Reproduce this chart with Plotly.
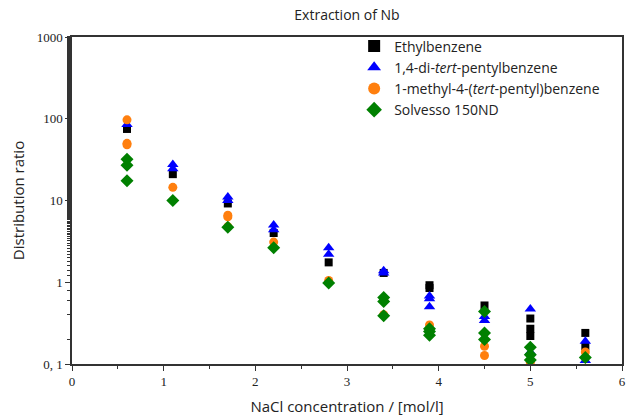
import plotly.graph_objects as go

eth_x = [0.6, 1.1, 1.7, 2.2, 2.8, 3.4, 3.9, 3.9, 4.5, 5.0, 5.0, 5.0, 5.6, 5.6]
eth_y = [75, 21, 9.2, 4.0, 1.75, 1.3, 0.92, 0.85, 0.52, 0.36, 0.27, 0.22, 0.24, 0.165]

dtp_x = [0.6, 1.1, 1.1, 1.7, 1.7, 2.2, 2.2, 2.8, 2.8, 3.4, 3.4, 3.9, 3.9, 3.9, 4.5, 4.5, 5.0, 5.0, 5.6, 5.6]
dtp_y = [85, 27.5, 24.5, 11, 10, 5.0, 4.4, 2.65, 2.2, 1.38, 1.3, 0.68, 0.63, 0.5, 0.38, 0.34, 0.47, 0.14, 0.19, 0.11]

mtp_x = [0.6, 0.6, 0.6, 1.1, 1.7, 1.7, 1.7, 2.2, 2.8, 3.4, 3.4, 3.9, 4.5, 4.5, 5.0, 5.6]
mtp_y = [97, 50, 48, 14.5, 6.6, 6.3, 4.8, 3.1, 1.05, 0.62, 0.4, 0.3, 0.165, 0.127, 0.105, 0.14]

sol_x = [0.6, 0.6, 0.6, 1.1, 1.7, 2.2, 2.8, 3.4, 3.4, 3.4, 3.9, 3.9, 3.9, 4.5, 4.5, 4.5, 5.0, 5.0, 5.0, 5.6]
sol_y = [32, 27, 17.5, 10, 4.7, 2.65, 0.98, 0.65, 0.58, 0.39, 0.27, 0.25, 0.225, 0.44, 0.24, 0.2, 0.16, 0.13, 0.112, 0.12]

y_tickvals = [0.1, 1, 10, 100, 1000]
y_ticktext = ["0, 1", "1", "10", "100", "1000"]
x_tickvals = [0, 1, 2, 3, 4, 5, 6]

fig = go.Figure()
fig.add_trace(go.Scatter(x=eth_x, y=eth_y, mode="markers", name="Ethylbenzene",
                         marker=dict(symbol="square", size=8, color="#000000")))
fig.add_trace(go.Scatter(x=dtp_x, y=dtp_y, mode="markers", name="1,4-di-<i>tert</i>-pentylbenzene",
                         marker=dict(symbol="triangle-up", size=10, color="#0000FF")))
fig.add_trace(go.Scatter(x=mtp_x, y=mtp_y, mode="markers", name="1-methyl-4-(<i>tert</i>-pentyl)benzene",
                         marker=dict(symbol="circle", size=9, color="#FF7F0E")))
fig.add_trace(go.Scatter(x=sol_x, y=sol_y, mode="markers", name="Solvesso 150ND",
                         marker=dict(symbol="diamond", size=10, color="#008000")))

axis_font = dict(family="Liberation Serif, DejaVu Serif, serif", size=13, color="#222")
fig.update_layout(
    width=627, height=416,
    margin=dict(l=72, r=5, t=37, b=52, autoexpand=False),
    paper_bgcolor="white", plot_bgcolor="white",
    title=dict(text="Extraction of Nb", x=0.5, xanchor="center", xref="paper", y=0.976, yanchor="top",
               font=dict(family="Open Sans, sans-serif", size=14, color="#222")),
    showlegend=True,
    legend=dict(x=0.513, y=1.02, xanchor="left", yanchor="top", bgcolor="rgba(0,0,0,0)",
                font=dict(family="Open Sans, sans-serif", size=14, color="#222"),
                tracegroupgap=0, itemsizing="constant"),
    xaxis=dict(range=[0, 6], tickvals=x_tickvals, ticks="outside", ticklen=5, tickwidth=1.2,
               tickcolor="#333", showline=True, linecolor="#333", linewidth=1.5, mirror=True,
               showgrid=False, zeroline=False, tickfont=axis_font, automargin=False,
               ticklabeloverflow="allow",
               minor=dict(tickvals=[0.5, 1.5, 2.5, 3.5, 4.5, 5.5], ticks="outside", ticklen=3, tickcolor="#333"),
               title=dict(text="NaCl concentration / [mol/l]", standoff=14,
                          font=dict(family="Open Sans, sans-serif", size=15, color="#222"))),
    yaxis=dict(type="log", range=[-1, 3], tickvals=y_tickvals, ticktext=y_ticktext, ticks="outside",
               ticklen=5, tickwidth=1.2, tickcolor="#333", showline=True, linecolor="#333",
               linewidth=1.5, mirror=True, showgrid=False, zeroline=False, tickfont=axis_font,
               automargin=False, ticklabeloverflow="allow",
               minor=dict(ticks="outside", ticklen=3, tickcolor="#333", showgrid=False),
               title=dict(text="Distribution ratio", standoff=8,
                          font=dict(family="Open Sans, sans-serif", size=15, color="#222"))),
)
# remove the browser's default 8px body margin so the figure fills the window exactly
fig.write_html("out.html", config={"displayModeBar": False},
               post_script="document.body.style.margin='0';document.body.style.overflow='hidden';")
